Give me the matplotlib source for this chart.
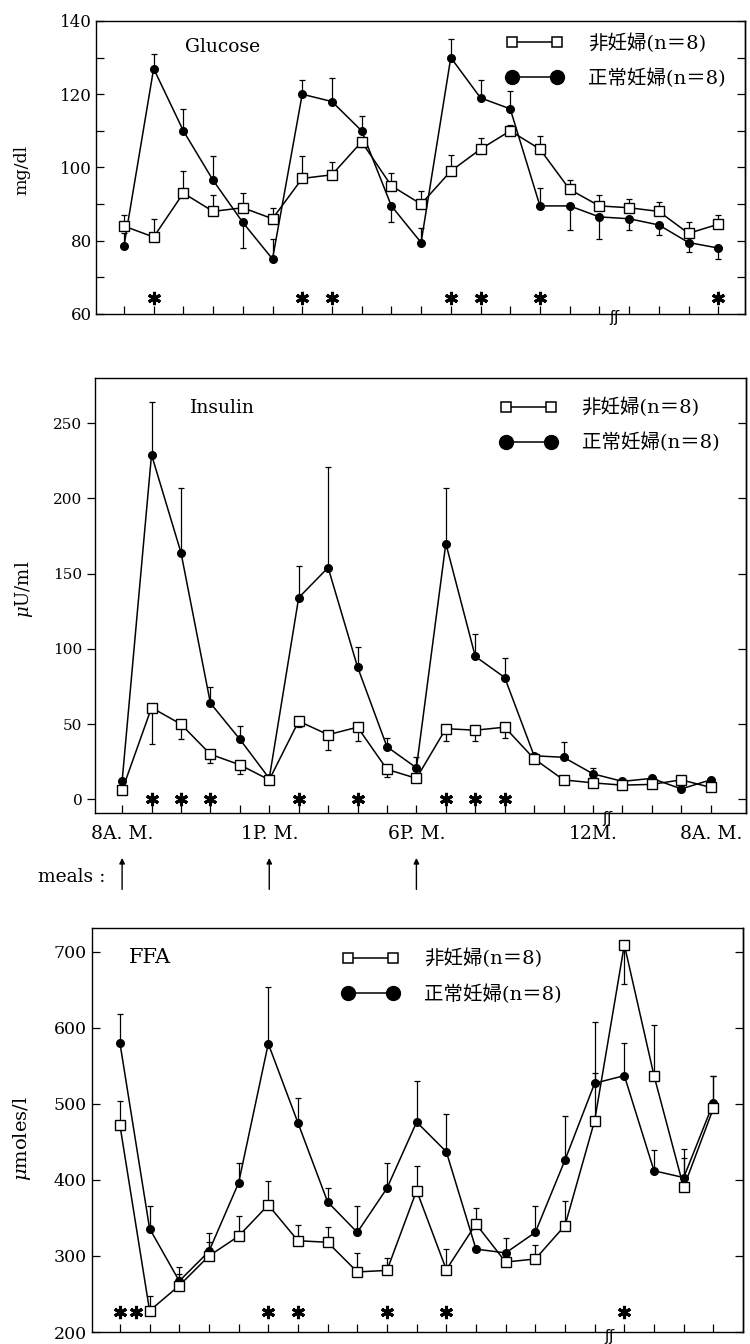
import numpy as np
import matplotlib.pyplot as plt
import matplotlib.transforms as mtransforms
from matplotlib.lines import Line2D

plt.rcParams['font.family'] = ['DejaVu Serif', 'Noto Sans CJK JP', 'DejaVu Sans']
plt.rcParams['mathtext.fontset'] = 'dejavuserif'

# sampling points (index of each blood sample), 8A.M. -> 8A.M. next day
t = np.arange(21)
time_labels = {0: '8A. M.', 5: '1P. M.', 10: '6P. M.', 16: '12M.', 20: '8A. M.'}
meal_times = [0, 5, 10]
labels = ['非妊婦(n＝8)', '正常妊婦(n＝8)']

# Glucose (mg/dl): mean and error-bar tip
glu_non = [84, 81, 93, 88, 89, 86, 97, 98, 107, 95, 90, 99, 105, 110, 105, 94, 89.5, 89, 88, 82, 84.5]
glu_non_tip = [87, 86, 99, 92.5, 93, 89, 103, 101.5, 105.5, 98.5, 93.5, 103.5, 108, 111.5, 108.5, 96.5, 92.5, 91.5, 90.5, 85, 87]
glu_preg = [78.5, 127, 110, 96.5, 85, 75, 120, 118, 110, 89.5, 79.5, 130, 119, 116, 89.5, 89.5, 86.5, 86, 84.3, 79.5, 78]
glu_preg_tip = [82, 131, 116, 103, 78, 80.5, 124, 124.5, 114, 85, 83.5, 135, 124, 121, 94.5, 83, 80.5, 83, 81.5, 77, 75]
glu_sig = [1, 6, 7, 11, 12, 14, 20]

# Insulin (uU/ml)
ins_non = [6, 61, 50, 30, 23, 13, 52, 43, 48, 20, 14, 47, 46, 48, 27, 13, 11, 9.5, 10, 13, 8]
ins_non_tip = [6, 37, 40, 24, 17, 13, 48, 33, 39, 15, 14, 39, 39, 41, 27, 13, 11, 9.5, 10, 13, 8]
ins_preg = [12, 229, 164, 64, 40, 14, 134, 154, 88, 35, 21, 170, 95, 81, 29, 28, 17, 12, 14, 7, 13]
ins_preg_tip = [12, 264, 207, 75, 49, 14, 155, 221, 101, 41, 28, 207, 110, 94, 29, 38, 21, 12, 14, 7, 13]
ins_sig = [1, 2, 3, 6, 8, 11, 12, 13]

# FFA (umoles/l)
ffa_non = [472, 228, 261, 300, 326, 367, 320, 318, 279, 281, 386, 282, 342, 292, 296, 340, 478, 709, 537, 390, 494]
ffa_non_tip = [504, 248, 276, 318, 352, 398, 341, 338, 304, 297, 418, 309, 363, 292, 315, 372, 607, 657, 604, 429, 536]
ffa_preg = [580, 336, 267, 306, 396, 579, 475, 371, 331, 389, 476, 437, 309, 304, 331, 426, 527, 537, 412, 403, 501]
ffa_preg_tip = [618, 365, 285, 330, 422, 654, 508, 389, 366, 422, 530, 487, 309, 324, 366, 484, 541, 580, 439, 441, 536]
ffa_sig = [0, 0.55, 5, 6, 9, 11, 17]


def draw_series(ax, mean, tip, filled):
    mean = np.array(mean, dtype=float)
    tip = np.array(tip, dtype=float)
    lo = np.clip(mean - tip, 0, None)
    hi = np.clip(tip - mean, 0, None)
    ax.errorbar(t, mean, yerr=[lo, hi], fmt='none', ecolor='k', elinewidth=0.9,
                capsize=2.5, capthick=0.9, zorder=2)
    if filled:
        ax.plot(t, mean, color='k', lw=1.1, marker='o', ms=5.5, mfc='k', mec='k', zorder=3)
    else:
        ax.plot(t, mean, color='k', lw=1.1, marker='s', ms=6.5, mfc='white', mec='k', mew=1.0, zorder=4)


def style_axis(ax, xlim, ylim, major, minor=None, left_dir='in', size=12, pad=3):
    ax.set_xlim(*xlim)
    ax.set_ylim(*ylim)
    ax.set_xticks(t)
    ax.set_yticks(major)
    if minor is not None:
        ax.set_yticks(minor, minor=True)
    ax.tick_params(axis='y', which='both', direction=left_dir, length=6, width=0.9,
                   right=False, labelsize=size, pad=pad)
    ax.tick_params(axis='x', direction='in', length=6, width=0.9, top=False, labelsize=13.5, pad=9)
    # right-hand ticks point inward
    sec = ax.secondary_yaxis('right')
    sec.set_yticks(major)
    if minor is not None:
        sec.set_yticks(minor, minor=True)
    sec.tick_params(axis='y', which='both', direction='in', length=6, width=0.9, labelright=False)
    sec.spines['right'].set_linewidth(1.0)
    for s in ax.spines.values():
        s.set_linewidth(1.0)


def sig_marks(ax, pos, y):
    ax.plot(pos, [y] * len(pos), ls='none', marker=(6, 2, 0), ms=9.5, mew=2.2, color='k', zorder=5)


def break_mark(ax):
    tr = mtransforms.blended_transform_factory(ax.transData, ax.transAxes)
    ax.text(16.5, -0.012, 'ʃʃ', transform=tr, ha='center', va='center', fontsize=11,
            family='DejaVu Sans', clip_on=False)


def add_legend(ax, anchor):
    h_non = Line2D([], [], color='k', lw=1.1, marker='s', ms=7, mfc='white', mec='k', mew=1.1)
    h_preg = Line2D([], [], color='k', lw=1.1, marker='o', ms=10, mfc='k', mec='k')
    ax.legend([h_non, h_preg], labels, numpoints=2, loc='upper left', bbox_to_anchor=anchor,
              frameon=False, handlelength=2.9, handletextpad=1.3, labelspacing=0.8,
              borderaxespad=0, borderpad=0, prop={'size': 14})


fig = plt.figure(figsize=(7.5, 13.44), dpi=100)

# --- Glucose ---
ax1 = fig.add_axes([0.128, 0.7664, 0.8653, 0.2180])
draw_series(ax1, glu_non, glu_non_tip, False)
draw_series(ax1, glu_preg, glu_preg_tip, True)
style_axis(ax1, (-0.94, 20.9), (60, 140), np.arange(60, 141, 20), np.arange(70, 140, 20),
           size=12, pad=3)
ax1.set_xticklabels([])
sig_marks(ax1, glu_sig, 64.3)
break_mark(ax1)
ax1.text(0.137, 0.911, 'Glucose', transform=ax1.transAxes, fontsize=13.5, va='center')
ax1.text(-0.114, 0.49, 'mg/dl', transform=ax1.transAxes, rotation=90, fontsize=12.5,
         ha='center', va='center')
add_legend(ax1, (0.632, 0.958))

# --- Insulin ---
ax2 = fig.add_axes([0.1267, 0.3951, 0.868, 0.3237])
draw_series(ax2, ins_non, ins_non_tip, False)
draw_series(ax2, ins_preg, ins_preg_tip, True)
style_axis(ax2, (-0.92, 21.2), (-9, 280), np.arange(0, 251, 50), left_dir='out',
           size=11, pad=3)
ax2.set_xticklabels([time_labels.get(i, '') for i in t])
sig_marks(ax2, ins_sig, 0.5)
break_mark(ax2)
ax2.text(0.146, 0.931, 'Insulin', transform=ax2.transAxes, fontsize=13.5, va='center')
ax2.text(-0.109, 0.513, r'$\mu$U/ml', transform=ax2.transAxes, rotation=90, fontsize=13,
         ha='center', va='center')
add_legend(ax2, (0.622, 0.954))

tr2 = mtransforms.blended_transform_factory(ax2.transData, ax2.transAxes)
for m in meal_times:
    ax2.annotate('', xy=(m, -0.097), xytext=(m, -0.182), xycoords=tr2, textcoords=tr2,
                 arrowprops=dict(arrowstyle='-|>', lw=1.0, color='k', mutation_scale=8),
                 annotation_clip=False)
ax2.text(-0.088, -0.147, 'meals :', transform=ax2.transAxes, fontsize=13.5, va='center', ha='left')

# --- FFA ---
ax3 = fig.add_axes([0.1227, 0.0089, 0.868, 0.3006])
draw_series(ax3, ffa_non, ffa_non_tip, False)
draw_series(ax3, ffa_preg, ffa_preg_tip, True)
style_axis(ax3, (-0.94, 21.0), (200, 731), np.arange(200, 701, 100), size=12.5, pad=4)
ax3.set_xticklabels([])
sig_marks(ax3, ffa_sig, 226)
break_mark(ax3)
ax3.text(0.057, 0.928, 'FFA', transform=ax3.transAxes, fontsize=15, va='center')
ax3.text(-0.1075, 0.48, r'$\mu$moles/l', transform=ax3.transAxes, rotation=90, fontsize=14,
         ha='center', va='center')
add_legend(ax3, (0.385, 0.948))

fig.savefig('out.png', dpi=100)
